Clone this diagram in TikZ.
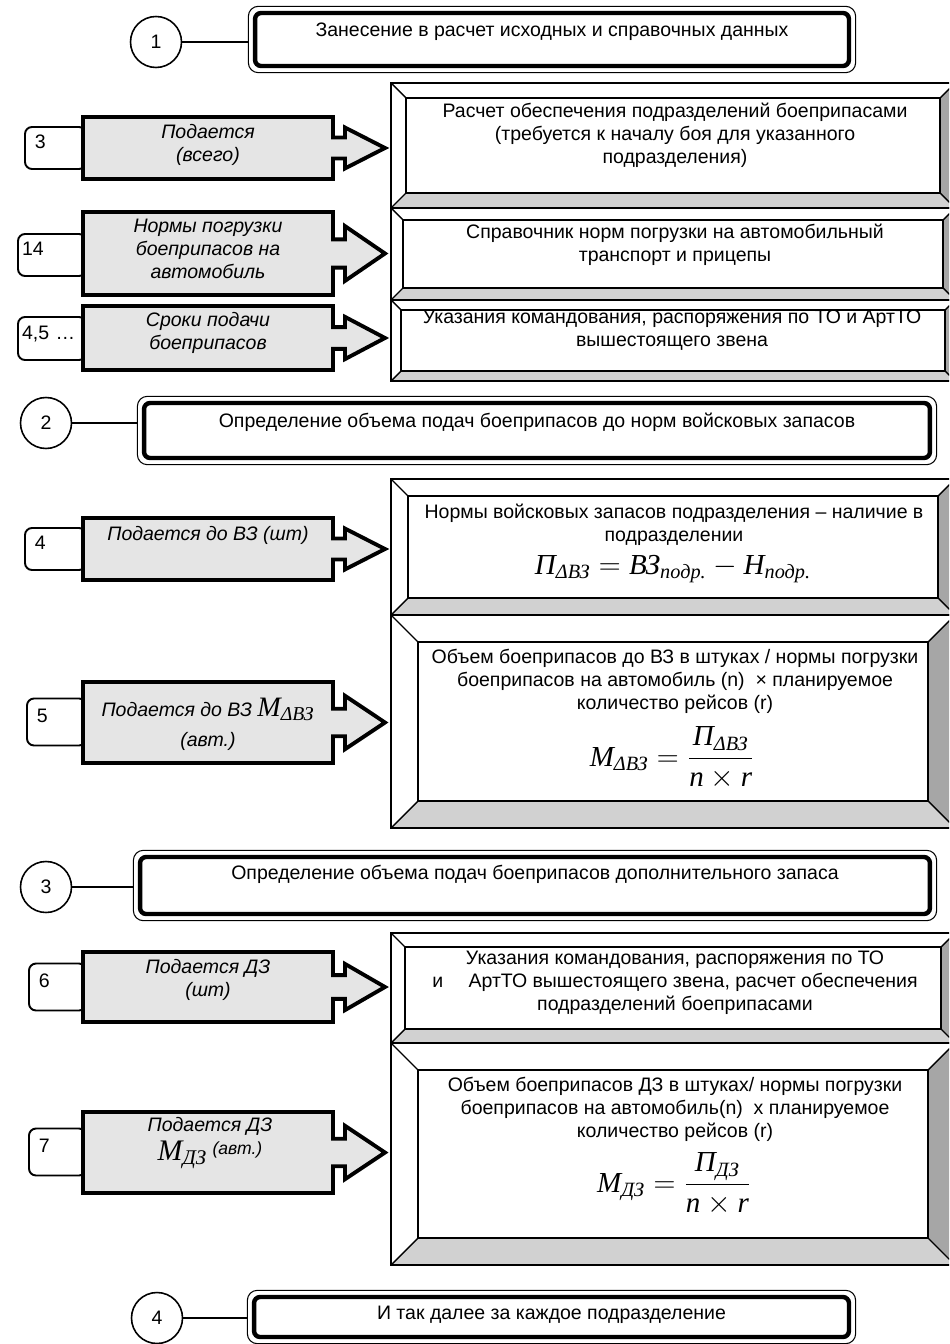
\documentclass[tikz,border=0pt]{standalone}
\usepackage{amsmath}
\usepackage{fontspec}
\setmainfont{Liberation Sans}
\newfontfamily\frmfont{Liberation Serif}
\usetikzlibrary{fit,positioning}
\newcommand{\fml}[1]{\text{\frmfont\itshape #1}}

\begin{document}
\begin{tikzpicture}[
    x=0.02cm, y=-0.02cm,
    font=\fontsize{11.1}{13}\selectfont,
    numcircle/.style={
        circle,
        draw,
        line width=0.9pt,
        minimum size=1.02cm,
        inner sep=0pt
    },
    hdrframe/.style={
        draw,
        line width=2.5pt,
        rounded corners=1.2mm,
        inner sep=0pt
    },
    hdrouter/.style={
        draw,
        line width=0.6pt,
        rounded corners=2mm,
        inner sep=0.09cm
    },
    hdrtext/.style={
        inner sep=0pt,
        anchor=north
    },
    link/.style={
        line width=0.9pt
    },
    tagbox/.style={
        draw,
        line width=1.1pt,
        rounded corners=1.4mm,
        fill=white,
        align=left,
        inner xsep=0.08cm,
        inner ysep=0pt,
        text depth=0.24cm
    },
    blockarrow/.style={
        draw,
        line width=2.2pt,
        fill=gray!20,
        line join=miter
    },
    arrowtext/.style={
        font=\fontsize{11.1}{13}\selectfont\itshape,
        align=center,
        inner sep=0pt
    },
    boxtext/.style={
        align=center,
        inner sep=0pt
    },
    bevelline/.style={
        line width=0.8pt,
        line join=miter
    },
    botbevel/.style={
        fill=gray!36
    },
    sidebevel/.style={
        fill=gray!70
    }
]

\useasboundingbox (0,0) rectangle (949,1344);
\clip (0,0) rectangle (949,1344);

% Bevelled boxes on the right
\foreach \ya/\yb/\bd in {83/208/15, 208/300/12, 300/381/10,
                         479/615/17, 615/828/27,
                         933/1043/14, 1043/1265/27} {
    \fill[botbevel] (391,\yb) -- (955,\yb) -- ({955-\bd},{\yb-\bd}) -- ({391+\bd},{\yb-\bd}) -- cycle;
    \fill[sidebevel] (955,\ya) -- (955,\yb) -- ({955-\bd},{\yb-\bd}) -- ({955-\bd},{\ya+\bd}) -- cycle;
    \draw[bevelline] (391,\ya) rectangle (955,\yb);
    \draw[bevelline] ({391+\bd},{\ya+\bd}) rectangle ({955-\bd},{\yb-\bd});
    \draw[bevelline] (391,\ya) -- ({391+\bd},{\ya+\bd})
                     (955,\ya) -- ({955-\bd},{\ya+\bd})
                     (391,\yb) -- ({391+\bd},{\yb-\bd})
                     (955,\yb) -- ({955-\bd},{\yb-\bd});
}

% Step 1
\node[numcircle] (c1) at (156,42) {1};
\node[hdrframe, minimum width=11.88cm, minimum height=1.06cm] (h1) at (552,39.5) {};
\node[hdrouter, fit=(h1)] (h1o) {};
\node[hdrtext, below=0.23cm of h1.north] (ht1) {Занесение в расчет исходных и справочных данных};
\draw[link] (c1.east) -- (c1.east -| h1o.west);

% Step 2
\node[numcircle] (c2) at (46,423) {2};
\node[hdrframe, minimum width=15.72cm, minimum height=1.1cm] (h2) at (537,430.5) {};
\node[hdrouter, fit=(h2)] (h2o) {};
\node[hdrtext, below=0.23cm of h2.north] (ht2) {Определение объема подач боеприпасов до норм войсковых запасов};
\draw[link] (c2.east) -- (c2.east -| h2o.west);

% Step 3
\node[numcircle] (c3) at (46,887) {3};
\node[hdrframe, minimum width=15.8cm, minimum height=1.14cm] (h3) at (535,885.5) {};
\node[hdrouter, fit=(h3)] (h3o) {};
\node[hdrtext, below=0.2cm of h3.north] (ht3) {Определение объема подач боеприпасов дополнительного запаса};
\draw[link] (c3.east) -- (c3.east -| h3o.west);

% Step 4
\node[numcircle] (c4) at (157,1318) {4};
\node[hdrframe, minimum width=11.9cm, minimum height=0.8cm] (h4) at (551.5,1317) {};
\node[hdrouter, fit=(h4)] (h4o) {};
\node[hdrtext, below=0.22cm of h4.north] (ht4) {И так далее за каждое подразделение};
\draw[link] (c4.east) -- (c4.east -| h4o.west);

% Source tags
\node[tagbox, text width=1.06cm, minimum height=0.84cm] (t1) at (55.5,148) {\hspace{0.3em}3};
\node[tagbox, text width=1.2cm, minimum height=0.84cm] (t2) at (52,255) {14};
\node[tagbox, text width=1.2cm, minimum height=0.86cm] (t3) at (52,338.5) {4,5 …};
\node[tagbox, text width=1.06cm, minimum height=0.84cm] (t4) at (55.5,549) {\hspace{0.3em}4};
\node[tagbox, text width=1.02cm, minimum height=0.94cm] (t5) at (56.5,722) {\hspace{0.3em}5};
\node[tagbox, text width=0.98cm, minimum height=0.94cm] (t6) at (57.5,987) {\hspace{0.3em}6};
\node[tagbox, text width=0.98cm, minimum height=0.94cm] (t7) at (57.5,1152) {\hspace{0.3em}7};

% Block arrows
\foreach \ya/\yb in {117/179, 212/295, 306/370, 518/580, 682/763, 952/1022, 1112/1193} {
    \pgfmathsetmacro\ym{(\ya+\yb)/2}
    \pgfmathsetmacro\hh{0.33*(\yb-\ya)}
    \pgfmathsetmacro\hs{0.17*(\yb-\ya)}
    \draw[blockarrow] (83,\ya) -- (333,\ya) -- (333,{\ym-\hs}) -- (345,{\ym-\hs})
        -- (345,{\ym-\hh}) -- (385,\ym) -- (345,{\ym+\hh}) -- (345,{\ym+\hs})
        -- (333,{\ym+\hs}) -- (333,\yb) -- (83,\yb) -- cycle;
}

% Arrow labels
\node[arrowtext, anchor=north] (a1) at (208,124) {Подается\\(всего)};
\node[arrowtext, anchor=north] (a2) at (208,219) {Нормы погрузки\\боеприпасов на\\автомобиль};
\node[arrowtext, anchor=north] (a3) at (208,312) {Сроки подачи\\боеприпасов};
\node[arrowtext, anchor=north] (a4) at (208,526) {Подается до ВЗ (шт)};
\node[arrowtext] (a5) at (208,724) {Подается до ВЗ {\fontsize{16}{16}\selectfont$\fml{M}_{\fml{ΔВЗ}}$}\\[4pt](авт.)};
\node[arrowtext, anchor=north] (a6) at (208,959) {Подается ДЗ\\(шт)};
\node[arrowtext] (a7) at (210,1143) {Подается ДЗ\\[2pt]{\fontsize{17}{17}\selectfont$\fml{M}_{\fml{ДЗ}}$} \raisebox{3pt}{\fontsize{10}{12}\selectfont(авт.)}};

% Box texts
\node[boxtext] (r1) at (675,135) {Расчет обеспечения подразделений боеприпасами\\(требуется к началу боя для указанного\\подразделения)};
\node[boxtext] (r2) at (675,244.5) {Справочник норм погрузки на автомобильный\\транспорт и прицепы};
\node[boxtext] (r3) at (672,330) {Указания командования, распоряжения по ТО и АртТО\\вышестоящего звена};
\node[boxtext, anchor=north] (r4) at (674,504) {Нормы войсковых запасов подразделения – наличие в\\подразделении};
\node[boxtext] (f4) at (673,569) {\fontsize{16.5}{19}\selectfont$\fml{П}_{\fml{ΔВЗ}} = \fml{ВЗ}_{\fml{подр.}} - \fml{Н}_{\fml{подр.}}$};
\node[boxtext, anchor=north] (r5) at (675,649) {Объем боеприпасов до ВЗ в штуках / нормы погрузки\\боеприпасов на автомобиль (n)~ × планируемое\\количество рейсов (r)};
\node[boxtext] (f5) at (672,758) {\fontsize{16.5}{19}\selectfont$\fml{M}_{\fml{ΔВЗ}} = \dfrac{\fml{П}_{\fml{ΔВЗ}}}{\fml{n}\times\fml{r}}$};
\node[boxtext] (r6) at (675,983) {Указания командования, распоряжения по ТО\\и\hspace{1.3em}АртТО вышестоящего звена, расчет обеспечения\\подразделений боеприпасами};
\node[boxtext, anchor=north] (r7) at (675,1077) {Объем боеприпасов ДЗ в штуках/ нормы погрузки\\боеприпасов на автомобиль(n)~ х планируемое\\количество рейсов (r)};
\node[boxtext] (f7) at (674,1184) {\fontsize{16.5}{19}\selectfont$\fml{M}_{\fml{ДЗ}} = \dfrac{\fml{П}_{\fml{ДЗ}}}{\fml{n}\times\fml{r}}$};

\end{tikzpicture}
\end{document}
